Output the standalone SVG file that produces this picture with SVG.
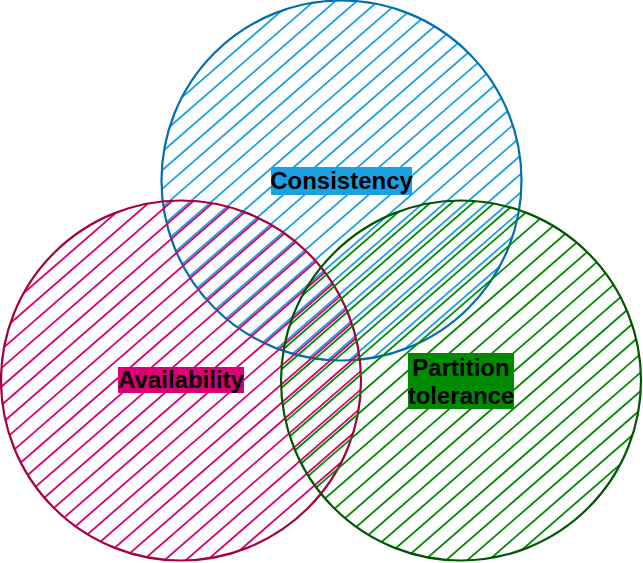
<svg xmlns="http://www.w3.org/2000/svg" width="643" height="563" viewBox="0 0 643 563">
<defs>
<clipPath id="cC"><circle cx="341.5" cy="180.5" r="180"/></clipPath>
<clipPath id="cA"><circle cx="181" cy="380.5" r="180"/></clipPath>
<clipPath id="cP"><circle cx="461" cy="380.5" r="180"/></clipPath>
</defs>
<style>
.ring{stroke-width:2.2;fill:none}
.hatch{stroke-width:1.8;fill:none}
.lbl{font-family:"Liberation Sans",Arial,sans-serif;font-weight:bold;font-size:24px;fill:#000;text-anchor:middle}
</style>
<g id="connectors"></g>
<g id="consistency">
<g clip-path="url(#cC)"><path class="hatch" transform="rotate(-41)" stroke="#1BA1E2" d="M-400 178.9H400M-400 192.9H400M-400 206.9H400M-400 220.9H400M-400 234.9H400M-400 248.9H400M-400 262.9H400M-400 276.9H400M-400 290.9H400M-400 304.9H400M-400 318.9H400M-400 332.9H400M-400 346.9H400M-400 360.9H400M-400 374.9H400M-400 388.9H400M-400 402.9H400M-400 416.9H400M-400 430.9H400M-400 444.9H400M-400 458.9H400M-400 472.9H400M-400 486.9H400M-400 500.9H400M-400 514.9H400M-400 528.9H400M-400 542.9H400"/></g>
<circle class="ring" cx="341.5" cy="180.5" r="180" stroke="#006EAF"/>
</g>
<g id="availability">
<g clip-path="url(#cA)"><path class="hatch" transform="rotate(-41)" stroke="#D80073" d="M-400 222.7H400M-400 236.7H400M-400 250.7H400M-400 264.7H400M-400 278.7H400M-400 292.7H400M-400 306.7H400M-400 320.7H400M-400 334.7H400M-400 348.7H400M-400 362.7H400M-400 376.7H400M-400 390.7H400M-400 404.7H400M-400 418.7H400M-400 432.7H400M-400 446.7H400M-400 460.7H400M-400 474.7H400M-400 488.7H400M-400 502.7H400M-400 516.7H400M-400 530.7H400M-400 544.7H400M-400 558.7H400M-400 572.7H400M-400 586.7H400"/></g>
<circle class="ring" cx="181" cy="380.5" r="180" stroke="#A50040"/>
</g>
<g id="partition">
<g clip-path="url(#cP)"><path class="hatch" transform="rotate(-41)" stroke="#008A00" d="M-400 407.4H400M-400 421.4H400M-400 435.4H400M-400 449.4H400M-400 463.4H400M-400 477.4H400M-400 491.4H400M-400 505.4H400M-400 519.4H400M-400 533.4H400M-400 547.4H400M-400 561.4H400M-400 575.4H400M-400 589.4H400M-400 603.4H400M-400 617.4H400M-400 631.4H400M-400 645.4H400M-400 659.4H400M-400 673.4H400M-400 687.4H400M-400 701.4H400M-400 715.4H400M-400 729.4H400M-400 743.4H400M-400 757.4H400M-400 771.4H400"/></g>
<circle class="ring" cx="461" cy="380.5" r="180" stroke="#005700"/>
</g>
<g id="consistency-label">
<rect x="271" y="167" width="141" height="28" fill="#1BA1E2"/>
<text class="lbl" x="341.5" y="188.5">Consistency</text>
</g>
<g id="availability-label">
<rect x="118" y="367" width="126" height="26" fill="#D80073"/>
<text class="lbl" x="181" y="388">Availability</text>
</g>
<g id="partition-label">
<rect x="408" y="353" width="106" height="56" fill="#008A00"/>
<text class="lbl" x="461" y="376">Partition</text>
<text class="lbl" x="461" y="403.5">tolerance</text>
</g>
</svg>
